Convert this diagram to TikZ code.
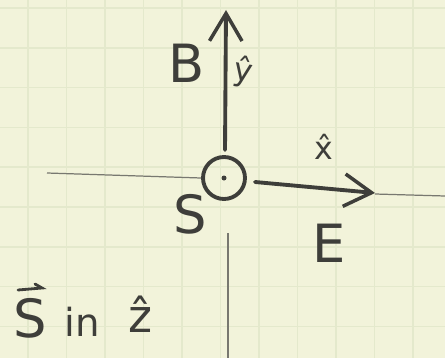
\documentclass[tikz,border=0pt]{standalone}
\usepackage{fontspec}
\setmainfont{DejaVu Sans}
\usetikzlibrary{arrows.meta}
\definecolor{paper}{RGB}{242,243,218}
\definecolor{gridc}{RGB}{228,233,204}
\definecolor{pencil}{RGB}{62,62,58}
\definecolor{thin}{RGB}{120,120,112}
\tikzset{
  pen/.style={draw=pencil,line width=2.2pt,line cap=round},
  vec/.style={pen,-{Straight Barb[length=5.5mm,width=6.5mm,line width=2pt]}},
  axis/.style={draw=thin,line width=0.7pt},
  lab/.style={text=pencil,font=\fontsize{30}{30}\selectfont,inner sep=0pt},
  small/.style={text=pencil,font=\fontsize{18}{18}\selectfont,inner sep=0pt}
}
\begin{document}
\begin{tikzpicture}[x=0.02cm,y=-0.02cm]
\useasboundingbox (0,0) rectangle (445,358);
\fill[paper] (0,0) rectangle (445,358);
\foreach \gx in {28,66.5,...,445} \draw[gridc,line width=0.9pt] (\gx,0) -- (\gx,358);
\foreach \gy in {8,47.8,...,358} \draw[gridc,line width=0.9pt] (0,\gy) -- (445,\gy);
% origin
\node[circle,draw=pencil,line width=2.2pt,minimum size=0.84cm,inner sep=0pt] (O) at (224,178) {};
\fill[pencil] (O.center) circle (2.5);
% axis lines
\coordinate (axL) at (47,173);
\coordinate (axD) at (228,358);
\coordinate (axDs) at (228,233);
\draw[axis] (axL) -- (O.west);
\draw[axis] (axDs) -- (axD);
\draw[axis] (375,194) -- (445,196);
% arrows
\coordinate (ytip) at (226,10);
\coordinate (xtip) at (375,193);
\coordinate (ystart) at (225,150);
\coordinate (xstart) at (255,182);
\draw[vec] (ystart) -- (ytip);
\draw[vec] (xstart) -- (xtip);
% labels
\node[lab] (B) at (187,63) {B};
\node[small,rotate=-10] (yh) at (243,72) {ŷ};
\node[small] (xh) at (324,147) {x̂};
\node[lab] (S) at (190,214) {S};
\node[lab] (E) at (329,243) {E};
\node[lab] (Sv) at (30,318) {S};
\coordinate (va) at (18,290);
\coordinate (vb) at (42,288);
\draw[pencil,line width=1.6pt,line cap=round] (va) -- (vb) -- ++(-7,-4);
\node[small,font=\fontsize{22}{22}\selectfont] (in) at (82,322) {in};
\node[small,font=\fontsize{26}{26}\selectfont] (zh) at (140,314) {ẑ};
\end{tikzpicture}
\end{document}
